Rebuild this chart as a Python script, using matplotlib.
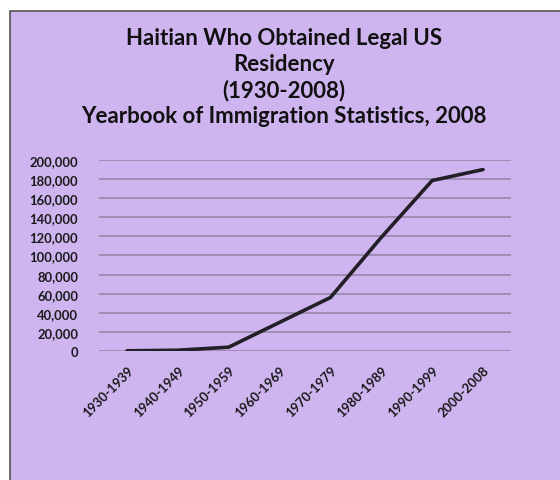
import matplotlib
matplotlib.use("Agg")
import matplotlib.pyplot as plt
from matplotlib.patches import Rectangle

# decades and number of Haitians obtaining legal permanent residence
decades = ["1930-1939", "1940-1949", "1950-1959", "1960-1969",
           "1970-1979", "1980-1989", "1990-1999", "2000-2008"]
residents = [200, 800, 4000, 30000, 56000, 119000, 178500, 190000]
yticks = list(range(0, 200001, 20000))

purple = "#cfb5f0"
grid_col = "#9b8aae"

plt.rcParams['font.family'] = ['Lato', 'DejaVu Sans']

fig = plt.figure(figsize=(5.6, 4.81), dpi=100)
fig.patch.set_facecolor("white")

# purple panel with a grey border on the left and top
W, H = 560, 481
fig.patches.append(Rectangle((10 / W, -0.1), 1.2, 1 - 12 / H + 0.1,
                             transform=fig.transFigure, facecolor=purple,
                             edgecolor="#555555", linewidth=1.2, zorder=-1))

ax = fig.add_axes([99 / W, 1 - 352 / H, 412 / W, 191 / H])
ax.set_facecolor("none")
ax.plot(range(len(decades)), residents, color="#231f26", linewidth=2.6,
        zorder=3, solid_capstyle="round")

ax.set_xlim(-0.55, len(decades) - 0.45)
ax.set_ylim(0, 200000)
ax.set_yticks(yticks)
ax.set_yticklabels([f"{v:,}" for v in yticks], fontsize=9.4,
                   fontweight="bold", color="#1a1a1a")
ax.set_xticks(range(len(decades)))
ax.set_xticklabels(decades, rotation=45, ha="right", rotation_mode="anchor",
                   fontsize=9.4, fontweight="bold", color="#1a1a1a")
ax.tick_params(axis="both", length=0)
ax.tick_params(axis="y", pad=15)
ax.tick_params(axis="x", pad=9)

ax.grid(axis="y", color=grid_col, linewidth=1.3)
ax.set_axisbelow(True)
for s in ax.spines.values():
    s.set_visible(False)

fig.text(284 / W, 1 - 28 / H,
         "Haitian Who Obtained Legal US\nResidency\n(1930-2008)\n"
         "Yearbook of Immigration Statistics, 2008",
         ha="center", va="top", fontsize=16, fontweight="bold",
         color="#111111", linespacing=1.28)

fig.savefig("out.png", dpi=100)
